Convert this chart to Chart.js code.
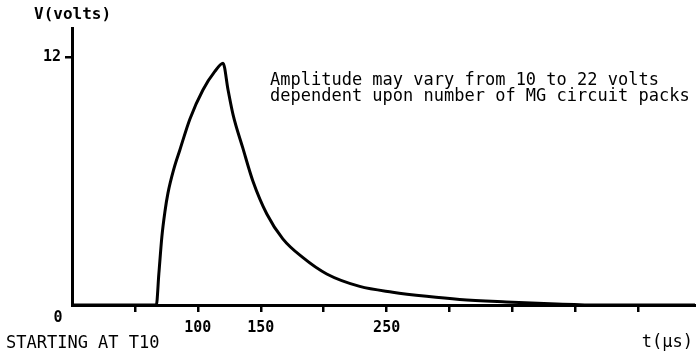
<!DOCTYPE html>
<html>
<head>
<meta charset="utf-8">
<script src="https://cdn.jsdelivr.net/npm/chart.js@4/dist/chart.umd.min.js"></script>
<style>
  html, body { margin: 0; padding: 0; background: #fff; }
  #wrap { width: 696px; height: 358px; position: relative; }
</style>
</head>
<body>
<div id="wrap"><canvas id="c" width="696" height="358"></canvas></div>
<script>
// Pulse waveform: time in microseconds, amplitude in volts
const times = [0, 67, 69, 71.4, 73.8, 76.2, 81, 85.7, 93.7, 104, 113.5, 120, 124, 128, 135.7, 143.7,
               154.8, 167.5, 183.3, 202.4, 228.6, 254.8, 281.7, 308, 345, 385, 420, 495];
const volts = [0, 0, 1.5, 3.3, 4.5, 5.4, 6.6, 7.5, 9.0, 10.4, 11.3, 11.7, 10.4, 9.2, 7.6, 6.0,
               4.4, 3.2, 2.3, 1.5, 0.9, 0.62, 0.42, 0.27, 0.15, 0.05, 0, 0];

// Axis ticks
const xTickValues = [50, 100, 150, 200, 250, 300, 350, 400, 450];
const xTickLabels = { 100: '100', 150: '150', 250: '250' };
const yTickValues = [12];

const note = ['Amplitude may vary from 10 to 22 volts',
              'dependent upon number of MG circuit packs'];

const MONO = "'DejaVu Sans Mono', 'Liberation Mono', monospace";

const textPlugin = {
  id: 'labels',
  afterDraw(chart) {
    const ctx = chart.ctx;
    const x = chart.scales.x;
    const y = chart.scales.y;
    ctx.save();
    ctx.fillStyle = '#000';
    ctx.textBaseline = 'middle';

    ctx.font = 'bold 16px ' + MONO;
    ctx.textAlign = 'left';
    ctx.fillText('V(volts)', 34, 15);

    ctx.font = 'bold 15px ' + MONO;
    ctx.textAlign = 'center';
    ctx.fillText('0', x.getPixelForValue(0) - 14, y.getPixelForValue(0) + 13);

    ctx.font = '17px ' + MONO;
    ctx.textAlign = 'left';
    ctx.fillText('STARTING AT T10', 6, 344);
    ctx.textAlign = 'right';
    ctx.fillText('t(\u03bcs)', 693, 343);

    ctx.font = '17px ' + MONO;
    ctx.textAlign = 'left';
    ctx.fillText(note[0], 270, 81);
    ctx.fillText(note[1], 270, 97);
    ctx.restore();
  }
};

new Chart(document.getElementById('c'), {
  type: 'line',
  data: {
    datasets: [{
      data: times.map((t, i) => ({ x: t, y: volts[i] })),
      borderColor: '#000',
      borderWidth: 3,
      pointRadius: 0,
      fill: false,
      cubicInterpolationMode: 'monotone'
    }]
  },
  options: {
    responsive: false,
    animation: false,
    events: [],
    layout: { padding: { top: 28, right: 1, left: 0, bottom: 0 } },
    plugins: { legend: { display: false }, tooltip: { enabled: false } },
    scales: {
      x: {
        type: 'linear',
        min: 0,
        max: 495,
        afterBuildTicks(s) { s.ticks = xTickValues.map(v => ({ value: v })); },
        afterFit(s) { s.height = 53; },
        border: { display: true, color: '#000', width: 3 },
        grid: { display: true, drawOnChartArea: false, drawTicks: true, tickLength: 7,
                color: '#000', lineWidth: 2.5 },
        ticks: {
          autoSkip: false,
          maxRotation: 0,
          padding: 7,
          color: '#000',
          font: { family: MONO, size: 15, weight: 'bold' },
          callback: v => xTickLabels[v] || ''
        }
      },
      y: {
        type: 'linear',
        min: 0,
        max: 13.4,
        afterBuildTicks(s) { s.ticks = yTickValues.map(v => ({ value: v })); },
        afterFit(s) { s.width = 72; },
        border: { display: true, color: '#000', width: 3 },
        grid: { display: true, drawOnChartArea: false, drawTicks: true, tickLength: 7,
                color: '#000', lineWidth: 2.5 },
        ticks: {
          padding: 4,
          color: '#000',
          font: { family: MONO, size: 15, weight: 'bold' }
        }
      }
    }
  },
  plugins: [textPlugin]
});
</script>
</body>
</html>
